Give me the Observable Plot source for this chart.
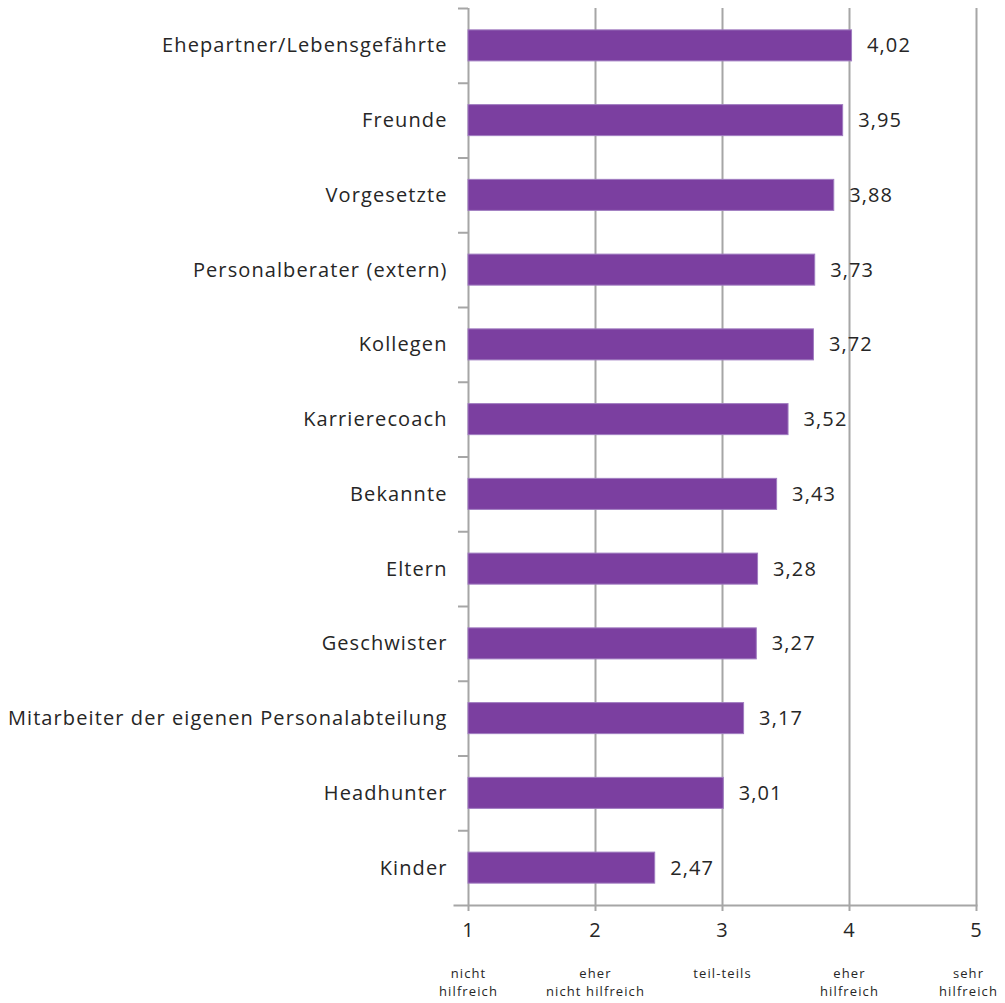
<!DOCTYPE html>
<html>
<head>
<meta charset="utf-8">
<script src="https://cdn.jsdelivr.net/npm/d3@7"></script>
<script src="https://cdn.jsdelivr.net/npm/@observablehq/plot@0.6"></script>
<style>
  body { margin: 0; background: #fff; }
  #chart svg { display: block; }
  #chart svg text { letter-spacing: 1.1px; }
</style>
</head>
<body>
<div id="chart"></div>
<script>
const categories = [
  "Ehepartner/Lebensgefährte", "Freunde", "Vorgesetzte", "Personalberater (extern)",
  "Kollegen", "Karrierecoach", "Bekannte", "Eltern", "Geschwister",
  "Mitarbeiter der eigenen Personalabteilung", "Headhunter", "Kinder"
];
const values = [4.02, 3.95, 3.88, 3.73, 3.72, 3.52, 3.43, 3.28, 3.27, 3.17, 3.01, 2.47];
const scaleTicks = [1, 2, 3, 4, 5];
const scaleLabels = ["nicht\nhilfreich", "eher\nnicht hilfreich", "teil-teils", "eher\nhilfreich", "sehr\nhilfreich"];

const data = categories.map((c, i) => ({category: c, value: values[i]}));
const descs = scaleTicks.map((t, i) => ({t, label: scaleLabels[i]}));
const fmt = v => d3.format(".2f")(v).replace(".", ",");

const W = 1005, H = 1003, mt = 8, mb = 98;
const step = (H - mt - mb) / categories.length;
const grey = "#a6a6a6";
const textColor = "#262626";

const chart = Plot.plot({
  width: W, height: H,
  marginLeft: 468, marginRight: 29, marginTop: mt, marginBottom: mb,
  style: {fontFamily: "'Open Sans', sans-serif", color: textColor, background: "#fff"},
  x: {domain: [1, 5]},
  y: {domain: categories, paddingInner: 0.585, paddingOuter: 0.2925, round: false},
  marks: [
    Plot.ruleX(scaleTicks, {stroke: grey, strokeWidth: 2}),
    Plot.frame({anchor: "bottom", stroke: grey, strokeWidth: 2, insetLeft: -14}),
    Plot.axisY({tickSize: 10, text: null, label: null, dy: -step / 2, stroke: grey, strokeWidth: 2, strokeOpacity: 1}),
    Plot.axisY({tickSize: 0, tickPadding: 21, fontSize: 20, label: null, fill: textColor}),
    Plot.axisX(scaleTicks, {tickSize: 6, tickPadding: 11, fontSize: 20, label: null, stroke: grey, strokeWidth: 2, strokeOpacity: 1, fill: textColor, tickFormat: d => d}),
    Plot.barX(data, {x1: 1, x2: "value", y: "category", fill: "#7b3fa0", stroke: "#a07cc0", strokeWidth: 1}),
    Plot.text(data, {x: "value", y: "category", text: d => fmt(d.value), textAnchor: "start", dx: 15, fontSize: 20, fill: textColor}),
    Plot.text(descs.slice(0, 4), {x: "t", text: "label", frameAnchor: "bottom", dy: 60, lineAnchor: "top", fontSize: 13, lineHeight: 1.35, fill: textColor}),
    Plot.text(descs.slice(4), {x: "t", text: "label", frameAnchor: "bottom", dy: 60, dx: -8, lineAnchor: "top", fontSize: 13, lineHeight: 1.35, fill: textColor})
  ]
});
document.getElementById("chart").appendChild(chart);
</script>
</body>
</html>
